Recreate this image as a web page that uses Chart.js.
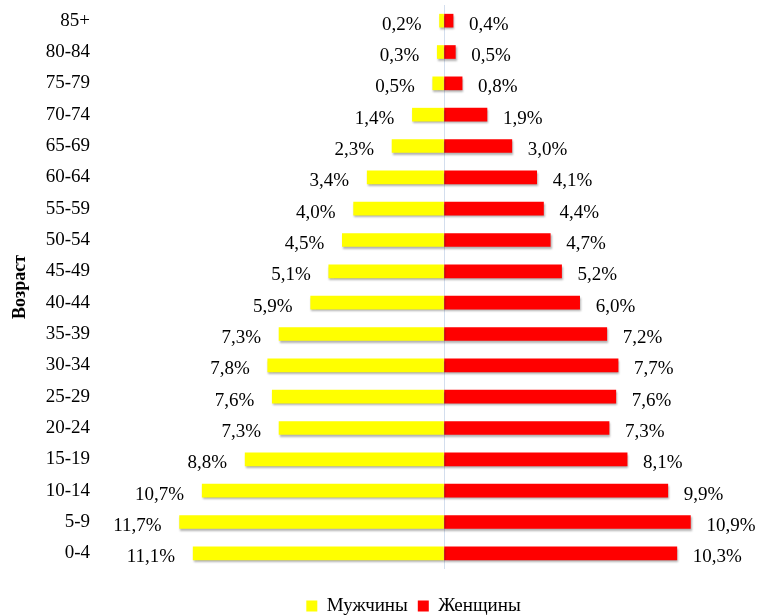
<!DOCTYPE html>
<html>
<head>
<meta charset="utf-8">
<script src="https://cdn.jsdelivr.net/npm/chart.js@4"></script>
<style>
  html, body { margin: 0; padding: 0; background: #fff; }
  #wrap { width: 771px; height: 616px; }
</style>
</head>
<body>
<div id="wrap"><canvas id="pyramid"></canvas></div>
<script>
var ages = ['85+', '80-84', '75-79', '70-74', '65-69', '60-64', '55-59', '50-54', '45-49',
            '40-44', '35-39', '30-34', '25-29', '20-24', '15-19', '10-14', '5-9', '0-4'];
var men = [0.2, 0.3, 0.5, 1.4, 2.3, 3.4, 4.0, 4.5, 5.1, 5.9, 7.3, 7.8, 7.6, 7.3, 8.8, 10.7, 11.7, 11.1];
var women = [0.4, 0.5, 0.8, 1.9, 3.0, 4.1, 4.4, 4.7, 5.2, 6.0, 7.2, 7.7, 7.6, 7.3, 8.1, 9.9, 10.9, 10.3];

var serif = '"Liberation Serif", "Times New Roman", serif';

// shadow under the bars, like the office chart
var barShadow = {
    id: 'barShadow',
    beforeDatasetsDraw: function (chart) {
        var ctx = chart.ctx;
        ctx.save();
        ctx.shadowColor = 'rgba(0,0,0,0.3)';
        ctx.shadowOffsetX = 1;
        ctx.shadowOffsetY = 2;
        ctx.shadowBlur = 2;
    },
    afterDatasetsDraw: function (chart) {
        chart.ctx.restore();
    }
};

// percent labels at the bar ends
var barLabels = {
    id: 'barLabels',
    afterDraw: function (chart) {
        var ctx = chart.ctx;
        ctx.save();
        ctx.font = '19px ' + serif;
        ctx.fillStyle = '#000';
        ctx.textBaseline = 'middle';
        chart.data.datasets.forEach(function (ds, i) {
            var meta = chart.getDatasetMeta(i);
            meta.data.forEach(function (bar, j) {
                var v = Math.abs(ds.data[j]);
                var txt = v.toFixed(1).replace('.', ',') + '%';
                if (ds.data[j] < 0) {
                    ctx.textAlign = 'right';
                    ctx.fillText(txt, bar.x - 18, bar.y + 4);
                } else {
                    ctx.textAlign = 'left';
                    ctx.fillText(txt, bar.x + 16, bar.y + 4);
                }
            });
        });
        ctx.restore();
    }
};

// push the legend a bit to the right
var legendShift = {
    id: 'legendShift',
    afterLayout: function (chart) {
        chart.legend.left += 31;
        chart.legend.right += 31;
    }
};

var pyramid = new Chart(document.getElementById('pyramid').getContext('2d'), {
    type: 'bar',
    data: {
        labels: ages,
        datasets: [{
            label: 'Мужчины',
            data: men.map(function (v) { return -v; }),
            backgroundColor: '#ffff00',
            borderWidth: 0,
            barThickness: 13
        }, {
            label: 'Женщины',
            data: women,
            backgroundColor: '#ff0000',
            borderWidth: 0,
            barThickness: 13
        }]
    },
    options: {
        indexAxis: 'y',
        responsive: true,
        maintainAspectRatio: false,
        animation: false,
        layout: { padding: { left: 0, right: 6, top: 5, bottom: -9.5 } },
        scales: {
            x: {
                stacked: true,
                min: -15,
                max: 14.2,
                ticks: { display: false, stepSize: 5 },
                border: { display: false },
                grid: {
                    drawTicks: false,
                    color: function (c) { return c.tick && c.tick.value === 0 ? '#d3deee' : 'rgba(0,0,0,0)'; },
                    lineWidth: 1
                },
                afterFit: function (s) {
                    s.height = 17.5;
                    s.paddingLeft = 0;
                    s.paddingRight = 0;
                }
            },
            y: {
                stacked: true,
                border: { display: false },
                grid: { display: false },
                ticks: {
                    color: '#000',
                    font: { family: serif, size: 19 },
                    padding: 7
                },
                title: {
                    display: true,
                    text: 'Возраст',
                    color: '#000',
                    font: { family: serif, size: 18, weight: 'bold' },
                    padding: { top: 10, bottom: 0 }
                },
                afterFit: function (s) {
                    s.width = 105;
                    s.paddingTop = 0;
                    s.paddingBottom = 0;
                }
            }
        },
        plugins: {
            legend: {
                position: 'bottom',
                labels: {
                    color: '#000',
                    boxWidth: 11,
                    boxHeight: 11,
                    padding: 10,
                    font: { family: serif, size: 19 }
                }
            },
            tooltip: { enabled: false }
        }
    },
    plugins: [barShadow, barLabels, legendShift]
});
</script>
</body>
</html>
